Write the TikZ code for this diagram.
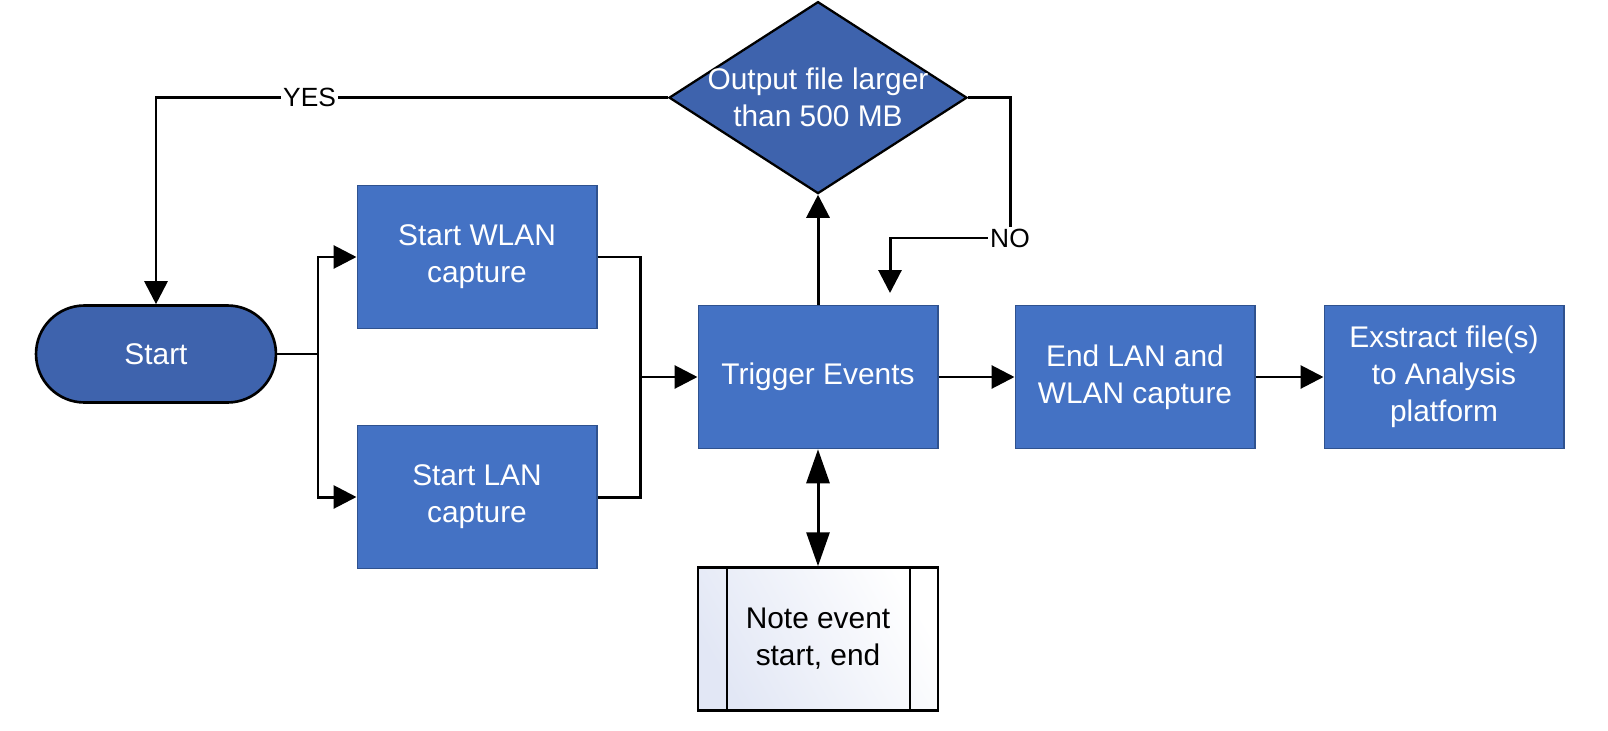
\documentclass[tikz,border=0pt]{standalone}
\usepackage{fontspec}
\setmainfont{Liberation Sans}
\usetikzlibrary{shapes.geometric, arrows.meta, positioning}
\definecolor{boxblue}{RGB}{68,114,196}
\definecolor{boxedge}{RGB}{47,82,143}
\definecolor{darkblue}{RGB}{62,99,173}
\definecolor{notetint}{RGB}{226,231,245}

\begin{document}
\begin{tikzpicture}[
    x=0.02cm, y=-0.02cm,
    terminal/.style={rectangle, rounded corners=0.97cm, draw=black, line width=1.5pt, fill=darkblue, minimum width=4.8cm, minimum height=1.94cm, text=white, font=\fontsize{17}{21}\selectfont},
    procbox/.style={rectangle, draw=boxedge, line width=0.6pt, fill=boxblue, minimum width=4.8cm, minimum height=2.87cm, inner sep=0pt, align=center, text=white, font=\fontsize{17}{21}\selectfont},
    decision/.style={diamond, draw=black, line width=1.3pt, fill=darkblue, minimum width=5.96cm, minimum height=3.84cm, inner sep=0pt},
    notebox/.style={rectangle, draw=black, line width=1.3pt, shading=axis, left color=notetint, right color=white, shading angle=120, minimum width=4.8cm, minimum height=2.86cm, inner sep=0pt, align=center, font=\fontsize{17}{21}\selectfont,
        path picture={
            \draw[line width=1.3pt] ([xshift=0.58cm]path picture bounding box.north west) -- ([xshift=0.58cm]path picture bounding box.south west);
            \draw[line width=1.3pt] ([xshift=-0.56cm]path picture bounding box.north east) -- ([xshift=-0.56cm]path picture bounding box.south east);
        }},
    answer/.style={fill=white, inner sep=1pt, font=\fontsize{15}{18}\selectfont},
    link/.style={line width=1.7pt},
    arrow/.style={link, -{Triangle[length=0.46cm, width=0.46cm]}},
    biarrow/.style={link, {Triangle[length=0.68cm, width=0.46cm]}-{Triangle[length=0.68cm, width=0.46cm]}}
]
\useasboundingbox (0,0) rectangle (1608,730);

% Start and the two captures
\node[terminal] (start) at (156,354) {Start};
\node[procbox] (wlan) at (477,257) {Start WLAN\\capture};
\node[procbox] (lan) at (477,497) {Start LAN\\capture};

% Main row
\node[procbox] (trigger) at (818,377) {Trigger Events};
\node[procbox, right=1.52cm of trigger] (endcap) {End LAN and\\WLAN capture};
\node[procbox, right=1.36cm of endcap] (extract) {Exstract file(s)\\to Analysis\\platform};

% Size check and note
\node[decision, above=2.2cm of trigger, label={[text=white, align=center, font=\fontsize{17}{21}\selectfont]center:Output file larger\\than 500 MB}] (check) {};
\node[notebox, below=2.34cm of trigger] (note) {Note event\\start, end};

% Junctions
\coordinate (split) at (318,354);
\coordinate (merge) at (640,377);
\coordinate (nocorner) at (1010,238);
\coordinate (noend) at (890,293);

% Arrows
\draw[link] (start.east) -- (split);
\draw[arrow] (split) |- (wlan.west);
\draw[arrow] (split) |- (lan.west);
\draw[link] (wlan.east) -| (merge);
\draw[link] (lan.east) -| (merge);
\draw[arrow] (merge) -- (trigger.west);
\draw[arrow] (trigger.east) -- (endcap.west);
\draw[arrow] (endcap.east) -- (extract.west);
\draw[arrow] (trigger.north) -- (check.south);
\draw[biarrow] (trigger.south) -- (note.north);

% Decision branches
\draw[arrow] (check.west) -| node[answer, pos=0.35] {YES} (start.north);
\draw[arrow] (check.east) -| (nocorner) node[answer] {NO} -| (noend);

\end{tikzpicture}
\end{document}
